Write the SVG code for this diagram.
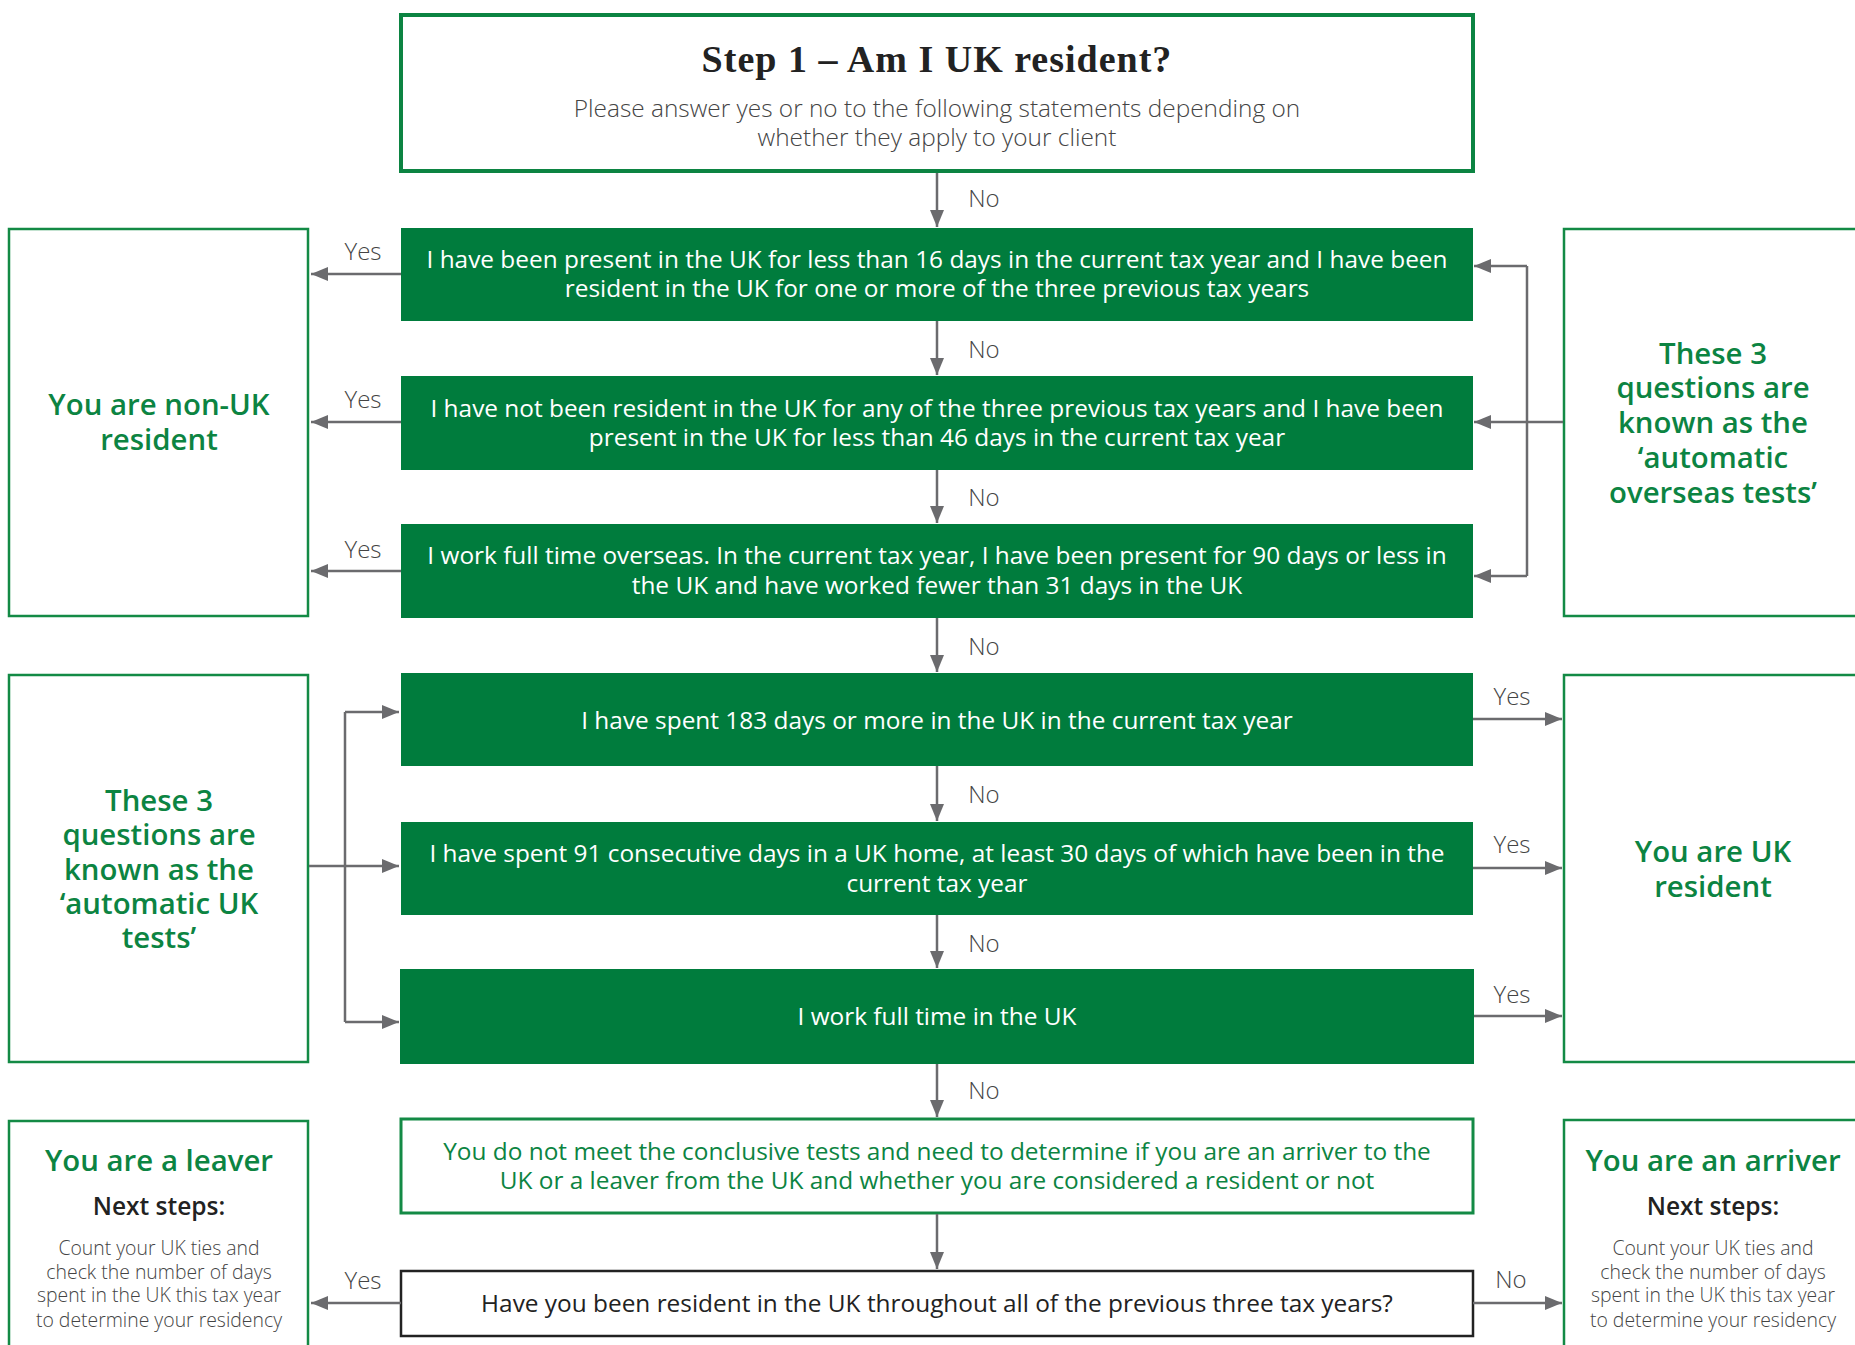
<svg xmlns="http://www.w3.org/2000/svg" width="1855" height="1345" viewBox="0 0 1855 1345">
<defs>
<marker id="ah" markerUnits="userSpaceOnUse" markerWidth="18" markerHeight="14" refX="17" refY="7" orient="auto">
<path d="M0,0 L17,7 L0,14 z" fill="#6b6b6e"/>
</marker>
<style>
.q{fill:#007c3d}
.qt{font-family:"Open Sans","Liberation Sans",sans-serif;font-size:24.4px;fill:#fff;text-anchor:middle}
.ob{fill:#fff;stroke:#138a45;stroke-width:2.5}
.gt{font-family:"Open Sans","Liberation Sans",sans-serif;font-size:29.4px;font-weight:600;fill:#0c8442;text-anchor:middle}
.lbl{font-family:"Open Sans","Liberation Sans",sans-serif;font-size:24px;font-weight:300;fill:#444;text-anchor:middle}
.sub{font-family:"Open Sans","Liberation Sans",sans-serif;font-size:24.4px;font-weight:300;fill:#444;text-anchor:middle}
.ns{font-family:"Open Sans","Liberation Sans",sans-serif;font-size:24.5px;font-weight:600;fill:#222;text-anchor:middle}
.body{font-family:"Open Sans","Liberation Sans",sans-serif;font-size:19.4px;font-weight:300;fill:#444;text-anchor:middle}
.c{fill:none;stroke:#6b6b6e;stroke-width:2.5}
.ca{fill:none;stroke:#6b6b6e;stroke-width:2.5;marker-end:url(#ah)}
</style>
</defs>
<rect width="1855" height="1345" fill="#fff"/>

<g id="title">
<rect x="401" y="15" width="1072" height="156" fill="#fff" stroke="#0c8442" stroke-width="4"/>
<text x="937" y="72" text-anchor="middle" font-family="Liberation Serif, serif" font-weight="700" font-size="38" letter-spacing="1" fill="#222">Step 1 – Am I UK resident?</text>
<text x="937" y="117" class="sub">Please answer yes or no to the following statements depending on</text>
<text x="937" y="146" class="sub">whether they apply to your client</text>
</g>

<g id="q1">
<rect class="q" x="401" y="228" width="1072" height="93"/>
<text class="qt" x="937" y="268">I have been present in the UK for less than 16 days in the current tax year and I have been</text>
<text class="qt" x="937" y="297">resident in the UK for one or more of the three previous tax years</text>
</g>
<g id="q2">
<rect class="q" x="401" y="376" width="1072" height="94"/>
<text class="qt" x="937" y="417">I have not been resident in the UK for any of the three previous tax years and I have been</text>
<text class="qt" x="937" y="446">present in the UK for less than 46 days in the current tax year</text>
</g>
<g id="q3">
<rect class="q" x="401" y="524" width="1072" height="94"/>
<text class="qt" x="937" y="564">I work full time overseas. In the current tax year, I have been present for 90 days or less in</text>
<text class="qt" x="937" y="594">the UK and have worked fewer than 31 days in the UK</text>
</g>
<g id="q4">
<rect class="q" x="401" y="673" width="1072" height="93"/>
<text class="qt" x="937" y="729">I have spent 183 days or more in the UK in the current tax year</text>
</g>
<g id="q5">
<rect class="q" x="401" y="822" width="1072" height="93"/>
<text class="qt" x="937" y="862">I have spent 91 consecutive days in a UK home, at least 30 days of which have been in the</text>
<text class="qt" x="937" y="892">current tax year</text>
</g>
<g id="q6">
<rect class="q" x="400" y="969" width="1074" height="95"/>
<text class="qt" x="937" y="1025">I work full time in the UK</text>
</g>
<g id="q7">
<rect x="401" y="1119" width="1072" height="94" fill="#fff" stroke="#138a45" stroke-width="3"/>
<text class="qt" x="937" y="1160" style="fill:#0c8442">You do not meet the conclusive tests and need to determine if you are an arriver to the</text>
<text class="qt" x="937" y="1189" style="fill:#0c8442">UK or a leaver from the UK and whether you are considered a resident or not</text>
</g>
<g id="q8">
<rect x="401" y="1271" width="1072" height="65" fill="#fff" stroke="#222" stroke-width="2.5"/>
<text class="qt" x="937" y="1312" style="fill:#222">Have you been resident in the UK throughout all of the previous three tax years?</text>
</g>

<g id="nonuk">
<rect class="ob" x="9" y="229" width="299" height="387"/>
<text class="gt" x="159" y="415">You are non-UK</text>
<text class="gt" x="159" y="450">resident</text>
</g>
<g id="overseas">
<rect class="ob" x="1564" y="229" width="320" height="387"/>
<text class="gt" x="1713" y="364">These 3</text>
<text class="gt" x="1713" y="398">questions are</text>
<text class="gt" x="1713" y="433">known as the</text>
<text class="gt" x="1713" y="468">‘automatic</text>
<text class="gt" x="1713" y="503">overseas tests’</text>
</g>
<g id="autouk">
<rect class="ob" x="9" y="675" width="299" height="387"/>
<text class="gt" x="159" y="811">These 3</text>
<text class="gt" x="159" y="845">questions are</text>
<text class="gt" x="159" y="880">known as the</text>
<text class="gt" x="159" y="914">‘automatic UK</text>
<text class="gt" x="159" y="948">tests’</text>
</g>
<g id="ukres">
<rect class="ob" x="1564" y="675" width="320" height="387"/>
<text class="gt" x="1713" y="862">You are UK</text>
<text class="gt" x="1713" y="897">resident</text>
</g>
<g id="leaver">
<rect class="ob" x="9" y="1121" width="299" height="260"/>
<text class="gt" x="159" y="1171">You are a leaver</text>
<text class="ns" x="159" y="1215">Next steps:</text>
<text class="body" x="159" y="1255">Count your UK ties and</text>
<text class="body" x="159" y="1279">check the number of days</text>
<text class="body" x="159" y="1302">spent in the UK this tax year</text>
<text class="body" x="159" y="1327">to determine your residency</text>
</g>
<g id="arriver">
<rect class="ob" x="1564" y="1120" width="320" height="260"/>
<text class="gt" x="1713" y="1171">You are an arriver</text>
<text class="ns" x="1713" y="1215">Next steps:</text>
<text class="body" x="1713" y="1255">Count your UK ties and</text>
<text class="body" x="1713" y="1279">check the number of days</text>
<text class="body" x="1713" y="1302">spent in the UK this tax year</text>
<text class="body" x="1713" y="1327">to determine your residency</text>
</g>

<g id="connectors">
<path class="ca" d="M937,173 V227"/>
<path class="ca" d="M937,321 V375"/>
<path class="ca" d="M937,470 V523"/>
<path class="ca" d="M937,618 V672"/>
<path class="ca" d="M937,766 V821"/>
<path class="ca" d="M937,915 V968"/>
<path class="ca" d="M937,1064 V1117"/>
<path class="ca" d="M937,1214 V1269"/>

<path class="ca" d="M401,274 H311"/>
<path class="ca" d="M401,422 H311"/>
<path class="ca" d="M401,571 H311"/>
<path class="ca" d="M401,1303 H311"/>

<path class="ca" d="M1473,719 H1562"/>
<path class="ca" d="M1473,868 H1562"/>
<path class="ca" d="M1474,1016 H1562"/>
<path class="ca" d="M1473,1303 H1562"/>

<path class="c" d="M1527,266 V576"/>
<path class="ca" d="M1527,266 H1474"/>
<path class="ca" d="M1563,422 H1474"/>
<path class="ca" d="M1527,576 H1474"/>

<path class="c" d="M345,712 V1022"/>
<path class="ca" d="M345,712 H399"/>
<path class="ca" d="M309,866 H399"/>
<path class="ca" d="M345,1022 H399"/>

<g class="lbl">
<text x="984" y="207">No</text>
<text x="984" y="358">No</text>
<text x="984" y="506">No</text>
<text x="984" y="655">No</text>
<text x="984" y="803">No</text>
<text x="984" y="952">No</text>
<text x="984" y="1099">No</text>
<text x="363" y="260">Yes</text>
<text x="363" y="408">Yes</text>
<text x="363" y="558">Yes</text>
<text x="363" y="1289">Yes</text>
<text x="1512" y="705">Yes</text>
<text x="1512" y="853">Yes</text>
<text x="1512" y="1003">Yes</text>
<text x="1511" y="1288">No</text>
</g>
</g>
</svg>
